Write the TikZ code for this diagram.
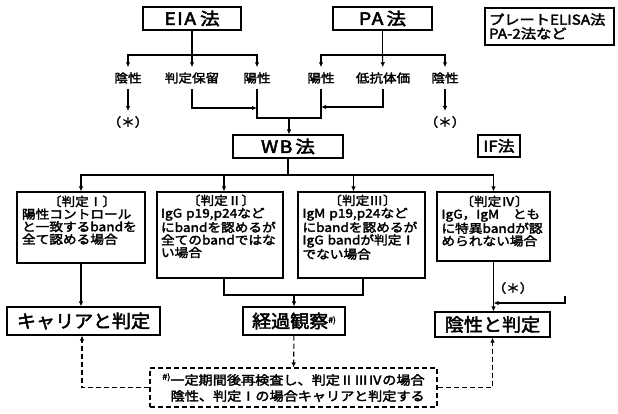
\documentclass[tikz,border=0pt]{standalone}
\usepackage{fontspec}
\setmainfont{Noto Sans CJK JP}[AutoFakeBold=2.5, FakeStretch=1.06]
\newfontfamily\wf{Noto Sans CJK JP}[AutoFakeBold=2.5, FakeStretch=1.13]
\newfontfamily\ttf{Noto Sans CJK JP}[AutoFakeBold=3, FakeStretch=1.15, LetterSpace=8]
\usetikzlibrary{arrows.meta,calc}
\tikzset{
  ln/.style={line width=1.1pt},
  arr/.style={ln,-{Latex[length=5pt,width=4.5pt]}},
  dsh/.style={dash pattern=on 5pt off 3pt},
  tbox/.style={draw,line width=1.1pt,inner sep=0pt,font=\ttf\bfseries\fontsize{17}{17}\selectfont},
  rbox/.style={draw,line width=1.1pt,inner sep=0pt,font=\bfseries\fontsize{18}{18}\selectfont},
  lab/.style={inner xsep=1pt,inner ysep=5pt,font=\wf\bfseries\fontsize{12}{12}\selectfont},
  cbox/.style={draw,line width=1.1pt,inner sep=0pt},
  btext/.style={inner sep=0pt,align=left,text width=#1,font=\wf\bfseries\fontsize{12.1}{12.6}\selectfont}
}
\newcommand{\shmark}{\raisebox{5pt}{\fontsize{8}{8}\selectfont\#)}}
\newcommand{\hdr}[1]{\makebox[\linewidth]{#1}}
\begin{document}
\begin{tikzpicture}[x=1pt,y=-1pt]
\useasboundingbox (0,0) rectangle (618,413);
% top boxes
\node[tbox,minimum width=98pt,minimum height=23pt] (eia) at (192,18.5) {EIA\hspace{4pt}法};
\node[tbox,minimum width=99pt,minimum height=23pt] (pa) at (382.5,18.5) {PA\hspace{3pt}法};
\node[draw,line width=1.1pt,minimum width=129pt,minimum height=37pt,align=left,inner xsep=4pt,
  font=\wf\bfseries\fontsize{13.5}{14}\selectfont,text width=121pt] (elisa) at (549.5,26.5) {プレートELISA法\\PA-2法など};
% labels
\node[lab] (l1) at (128,78) {陰性};
\node[lab] (l2) at (192,78) {判定保留};
\node[lab] (l3) at (257,78) {陽性};
\node[lab] (r1) at (321,78) {陽性};
\node[lab] (r2) at (383,78) {低抗体価};
\node[lab] (r3) at (445,78) {陰性};
\node[lab] (s1) at (128,122) {（＊）};
\node[lab] (s2) at (445,122) {（＊）};
\coordinate (ej) at (192,55);
\coordinate (pj) at (382.5,55);
\draw[ln] (eia) -- (ej);
\draw[arr] (ej) -| (l1);
\draw[arr] (ej) -- (l2);
\draw[arr] (ej) -| (l3);
\draw[ln] (pa) -- (pj);
\draw[arr] (pj) -| (r1);
\draw[arr] (pj) -- (r2);
\draw[arr] (pj) -| (r3);
\draw[arr] (l1) -- (s1);
\draw[arr] (r3) -- (s2);
\coordinate (m1) at (257,108);
\coordinate (m2) at (321,107);
\draw[arr] (l2) |- (m1);
\draw[arr] (r2) |- (m2);
\coordinate (jl) at (257,118);
\coordinate (jr) at (321,118);
\coordinate (jm) at (289,118);
\draw[ln] (l3) -- (jl) -- (jr) -- (r1);
% WB
\node[tbox,minimum width=110pt,minimum height=23pt] (wb) at (288,146.5) {WB\hspace{3pt}法};
\node[tbox,minimum width=42pt,minimum height=22pt,font=\wf\bfseries\fontsize{15}{15}\selectfont] (if) at (499,146) {IF法};
\draw[arr] (jm) -- (jm |- wb.north);
% judgment boxes
\node[cbox,minimum width=128pt,minimum height=71pt] (b1) at (81,227.5) {};
\node[cbox,minimum width=126pt,minimum height=86pt] (b2) at (220,235) {};
\node[cbox,minimum width=127pt,minimum height=86pt] (b3) at (361.5,235) {};
\node[cbox,minimum width=113pt,minimum height=69pt] (b4) at (493.5,226.5) {};
\coordinate (wj) at (288,175);
\draw[ln] (wb) -- (wj);
\draw[arr] (wj) -| (b1.north);
\draw[arr] (wj) -| ($(b2.north)+(4,0)$);
\draw[arr] (wj) -| ($(b3.north)+(-8,0)$);
\draw[arr] (wj) -| (b4.north);
\node[btext=120pt,anchor=north] (t1) at ($(b1.north)+(1,4)$) {\hdr{〔判定Ⅰ〕}\\陽性コントロール\\と一致するbandを\\全て認める場合};
\node[btext=120pt,anchor=north] (t2) at ($(b2.north)+(1,3)$) {\hdr{〔判定Ⅱ〕}\\IgG p19,p24など\\にbandを認めるが\\全てのbandではな\\い場合};
\node[btext=120pt,anchor=north] (t3) at ($(b3.north)+(1,3)$) {\hdr{〔判定Ⅲ〕}\\IgM p19,p24など\\にbandを認めるが\\IgG bandが判定Ⅰ\\でない場合};
\node[btext=106pt,anchor=north] (t4) at ($(b4.north)+(1,4)$) {\hdr{〔判定Ⅳ〕}\\IgG，IgM　とも\\に特異bandが認\\められない場合};
% result boxes
\node[rbox,minimum width=153pt,minimum height=28pt] (carrier) at (83.5,321) {キャリアと判定};
\node[rbox,minimum width=102pt,minimum height=28pt] (keika) at (294,321) {経過観察\shmark};
\node[rbox,minimum width=115pt,minimum height=25pt] (inei) at (492.5,324.5) {陰性と判定};
\draw[arr] (b1.south) -- (b1.south |- carrier.north);
\coordinate (k2) at (224,295);
\coordinate (k3) at (363,295);
\draw[ln] (b2.south -| k2) -- (k2) -- (k3) -- (b3.south -| k3);
\draw[arr] (k2 -| keika) -- (keika);
\node[lab] (s3) at (513,288) {（＊）};
\coordinate (c1) at (565,296);
\coordinate (c2) at (565,303);
\draw[arr] (c1) -- (c2) -- (c2 -| b4.south);
\draw[arr] (b4.south) -- (b4.south |- inei.north);
% note
\node[draw,dsh,line width=1.1pt,minimum width=287pt,minimum height=39pt,align=right,inner xsep=10pt,inner ysep=0pt,
  font=\wf\bfseries\fontsize{12.5}{16}\selectfont] (note) at (293.5,387.5) {\shmark 一定期間後再検査し、判定ⅡⅢⅣの場合\\陰性、判定Ⅰの場合キャリアと判定する};
\draw[arr,dsh] (keika) -- (note);
\draw[arr,dsh] (note.west) -| ($(carrier.south)+(-1.5,0)$);
\draw[arr,dsh] (note.east) -| (inei.south);
\end{tikzpicture}
\end{document}
